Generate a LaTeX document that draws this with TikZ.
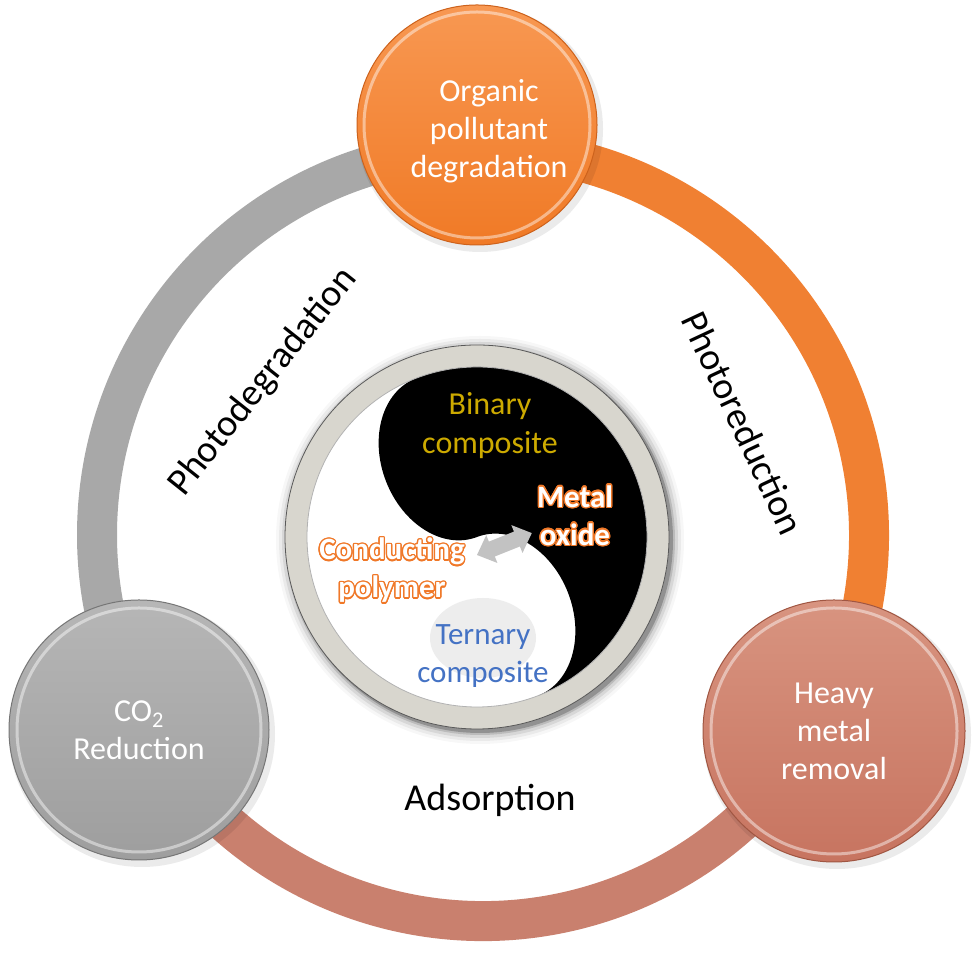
\documentclass[tikz,border=0pt]{standalone}
\usepackage{fontspec}
\setmainfont{Carlito}
\usepackage{contour}
\contourlength{1.3pt}
\usetikzlibrary{arrows.meta,shapes.geometric,calc}
\definecolor{orgtop}{RGB}{248,152,82}
\definecolor{orgbot}{RGB}{240,122,38}
\definecolor{orgedge}{RGB}{205,98,28}
\definecolor{graytop}{RGB}{182,182,182}
\definecolor{graybot}{RGB}{158,158,158}
\definecolor{grayedge}{RGB}{118,118,118}
\definecolor{saltop}{RGB}{216,148,128}
\definecolor{salbot}{RGB}{199,116,96}
\definecolor{saledge}{RGB}{160,86,66}
\definecolor{ringorange}{RGB}{240,128,50}
\definecolor{ringgray}{RGB}{168,168,168}
\definecolor{ringsalmon}{RGB}{201,128,110}
\definecolor{binary}{RGB}{205,170,0}
\definecolor{ternblue}{RGB}{68,114,196}
\definecolor{oxorange}{RGB}{240,120,40}
\definecolor{innerring}{RGB}{216,214,206}
\definecolor{arrowgray}{RGB}{194,194,194}
\tikzset{
  ringarc/.style={line width=40pt},
  bubble/.style={circle, inner sep=0pt, text=white, align=center,
    font=\fontsize{32}{38}\selectfont},
  bubbletext/.style={text=white, align=center, font=\fontsize{32}{38}\selectfont},
  rim/.style={line width=3pt, white, opacity=0.45},
  pathlabel/.style={font=\fontsize{38}{42}\selectfont, text=black},
  innerlabel/.style={align=center, font=\fontsize{32}{39}\selectfont},
  glowlabel/.style={align=center, text=white, font=\bfseries\fontsize{31}{38}\selectfont}
}
\begin{document}
\begin{tikzpicture}[x=1pt,y=1pt]
\useasboundingbox (0,0) rectangle (980,957);
\fill[white] (0,0) rectangle (980,957);
\coordinate (C) at (483,422);
% big ring
\draw[ringarc, ringsalmon] (C) ++(200:386) arc[start angle=200, end angle=340, radius=386];
\draw[ringarc, ringgray] (C) ++(90:386) arc[start angle=90, end angle=215, radius=386];
\draw[ringarc, ringorange] (C) ++(-35:386) arc[start angle=-35, end angle=95, radius=386];
% ring labels
\node[pathlabel, rotate=51.5] (pd) at (263,575) {Photodegradation};
\node[pathlabel, rotate=-65] (pr) at (743,534) {Photoreduction};
\node[pathlabel] (ads) at (490,157) {Adsorption};
% inner ring
\coordinate (I) at (477,420);
\foreach \r/\o in {204/0.03,201/0.05,198/0.08,195/0.13,193/0.22}
  \fill[black, opacity=\o] ([shift={(3,-3)}]I) circle[radius=\r];
\fill[innerring] (I) circle[radius=192];
\draw[gray!70!black, line width=0.8pt] (I) circle[radius=192];
\fill[white] (I) circle[radius=170];
\begin{scope}[shift={(I)}, rotate=21]
\fill[black] (0,170) arc[start angle=90, end angle=-90, radius=170]
  arc[start angle=-90, end angle=90, x radius=65, y radius=85]
  arc[start angle=270, end angle=90, x radius=65, y radius=85] -- cycle;
\end{scope}
\draw[gray!60, line width=0.8pt] (I) circle[radius=170];
% inner labels
\node[ellipse, fill=gray!14, minimum width=106pt, minimum height=80pt] (tbg) at (483,319) {};
\node[innerlabel, text=binary] (bin) at (490,531) {Binary\\composite};
\node[innerlabel, text=ternblue, font=\fontsize{31}{38}\selectfont] (tern) at (483,301) {Ternary\\composite};
\node[glowlabel] (mo) at (575,441) {\contour{oxorange}{Metal}\\\contour{oxorange}{oxide}};
\node[glowlabel] (cp) at (392,386) {\contour{oxorange}{Conducting}\\\contour{oxorange}{polymer}};
% double arrow
\coordinate (a1) at (477,402);
\coordinate (a2) at (532,424);
\begin{scope}[shift={(a1)}, rotate=21.8]
\fill[arrowgray] (0,0) -- (16,15) -- (16,8) -- (43,8) -- (43,15) -- (59,0)
  -- (43,-15) -- (43,-8) -- (16,-8) -- (16,-15) -- cycle;
\end{scope}
% bubbles
\foreach \px/\py/\r in {477/832/120,139/227/130,834/226/131}
  \fill[black, opacity=0.08] (\px+3,\py-4) circle[radius=\r+3];
\node[bubble, minimum size=240pt, top color=orgtop, bottom color=orgbot, draw=orgedge, line width=1pt] (org) at (477,832) {};
\draw[rim] (org.center) circle[radius=113];
\node[bubbletext] (orgtxt) at (489,826) {Organic\\pollutant\\degradation};
\node[bubble, minimum size=260pt, top color=graytop, bottom color=graybot, draw=grayedge, line width=1pt] (co2) at (139,227) {CO\textsubscript{2}\\Reduction};
\draw[rim] (co2.center) circle[radius=122];
\node[bubble, minimum size=262pt, top color=saltop, bottom color=salbot, draw=saledge, line width=1pt] (hm) at (834,226) {Heavy\\metal\\removal};
\draw[rim] (hm.center) circle[radius=123];
\end{tikzpicture}
\end{document}
